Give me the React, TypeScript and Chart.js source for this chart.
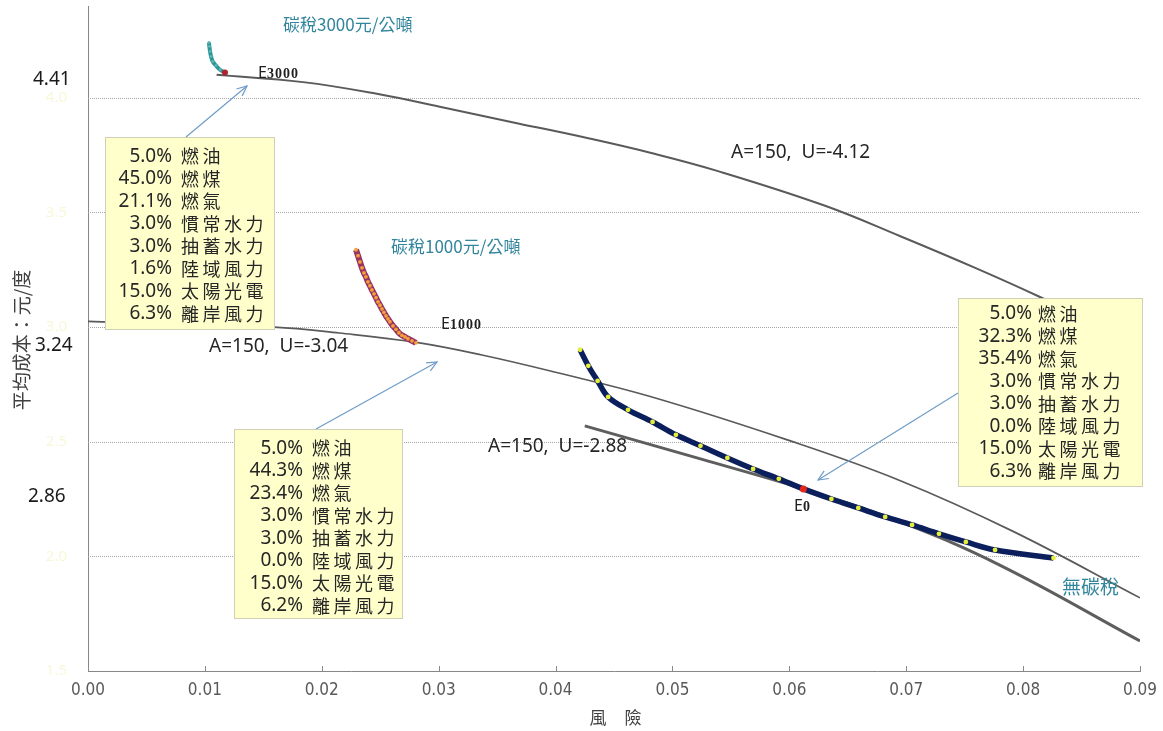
import { useEffect, useRef } from 'react';
import { Chart, registerables } from 'chart.js';

Chart.register(...registerables);

// Axis ticks
const xTickValues = [0, 0.01, 0.02, 0.03, 0.04, 0.05, 0.06, 0.07, 0.08, 0.09];
const xTickLabels = ['0.00', '0.01', '0.02', '0.03', '0.04', '0.05', '0.06', '0.07', '0.08', '0.09'];
const yTickValues = [1.5, 2.0, 2.5, 3.0, 3.5, 4.0];
const yTickLabels = ['1.5', '2.0', '2.5', '3.0', '3.5', '4.0'];

// Indifference curves, A=150
const curveU412X = [0.0110, 0.0184, 0.0246, 0.0306, 0.0368, 0.0429, 0.0481, 0.0539, 0.0630, 0.0695, 0.0759, 0.0814, 0.0900];
const curveU412Y = [4.100, 4.068, 4.018, 3.955, 3.888, 3.822, 3.760, 3.680, 3.530, 3.396, 3.258, 3.132, 2.922];
const curveU304X = [0, 0.0159, 0.0215, 0.0281, 0.0337, 0.0399, 0.0481, 0.0597, 0.0695, 0.0791, 0.0900];
const curveU304Y = [3.025, 3.000, 2.974, 2.933, 2.878, 2.804, 2.697, 2.510, 2.330, 2.110, 1.819];
const curveU288X = [0.0425, 0.0524, 0.0612, 0.0695, 0.0780, 0.0900];
const curveU288Y = [2.569, 2.425, 2.294, 2.150, 1.962, 1.631];

// Efficient frontier, no carbon tax (E0 highlighted)
const frontier0X = [0.0421, 0.0428, 0.0436, 0.0445, 0.0462, 0.0483, 0.0503, 0.0524, 0.0547, 0.0569, 0.0591, 0.0612, 0.0636, 0.0659, 0.0682, 0.0705, 0.0728, 0.0751, 0.0776, 0.0826];
const frontier0Y = [2.901, 2.831, 2.765, 2.695, 2.639, 2.586, 2.530, 2.482, 2.429, 2.381, 2.338, 2.294, 2.250, 2.211, 2.172, 2.137, 2.098, 2.063, 2.028, 1.993];
const e0Index = 11;

// Efficient frontier, carbon tax 1000 NTD/t (last point is E1000)
const frontier1000X = [0.02293, 0.02310, 0.02327, 0.02344, 0.02361, 0.02378, 0.02395, 0.02412, 0.02429, 0.02447, 0.02464, 0.02481, 0.02498, 0.02515, 0.02532, 0.02549, 0.02566, 0.02583, 0.02609, 0.02635, 0.02660, 0.02686, 0.02712, 0.02737, 0.02772, 0.02806];
const frontier1000Y = [3.337, 3.311, 3.284, 3.258, 3.236, 3.219, 3.197, 3.180, 3.162, 3.145, 3.128, 3.110, 3.095, 3.079, 3.064, 3.049, 3.036, 3.023, 3.005, 2.990, 2.975, 2.964, 2.957, 2.949, 2.940, 2.931];

// Efficient frontier, carbon tax 3000 NTD/t (last point is E3000)
const frontier3000X = [0.01035, 0.01038, 0.01044, 0.01053, 0.01067, 0.01095, 0.01129, 0.01172];
const frontier3000Y = [4.241, 4.224, 4.202, 4.180, 4.158, 4.140, 4.122, 4.110];

// Generation mix at each equilibrium
const mixSources = ['燃油', '燃煤', '燃氣', '慣常水力', '抽蓄水力', '陸域風力', '太陽光電', '離岸風力'];
const mixE3000 = [5.0, 45.0, 21.1, 3.0, 3.0, 1.6, 15.0, 6.3];
const mixE1000 = [5.0, 44.3, 23.4, 3.0, 3.0, 0.0, 15.0, 6.2];
const mixE0 = [5.0, 32.3, 35.4, 3.0, 3.0, 0.0, 15.0, 6.3];

// Utility values written beside the axis
const utilityMarks = ['4.41', '3.24', '2.86'];
const utilityCurveLabels = ['A=150,  U=-4.12', 'A=150,  U=-3.04', 'A=150,  U=-2.88'];

const W = 1163;
const H = 731;
const FONT_CJK = '"Noto Sans CJK TC", "Noto Sans CJK SC", sans-serif';
const FONT_LATIN = '"Noto Sans", "DejaVu Sans", sans-serif';
const TEAL = '#31859c';
const INK = '#262626';

const toPoints = (xs: number[], ys: number[]) => xs.map((x, i) => ({ x, y: ys[i] }));

function text(ctx: any, s: string, x: number, y: number, font: string, color: string, align = 'left') {
  ctx.font = font;
  ctx.fillStyle = color;
  ctx.textAlign = align;
  ctx.textBaseline = 'middle';
  ctx.fillText(s, x, y);
}

function arrow(ctx: any, x1: number, y1: number, x2: number, y2: number) {
  ctx.save();
  ctx.strokeStyle = '#6f9cc7';
  ctx.lineWidth = 1.2;
  ctx.setLineDash([]);
  ctx.beginPath();
  ctx.moveTo(x1, y1);
  ctx.lineTo(x2, y2);
  ctx.stroke();
  const a = Math.atan2(y2 - y1, x2 - x1);
  const L = 11;
  const s = 0.42;
  ctx.beginPath();
  ctx.moveTo(x2 - L * Math.cos(a - s), y2 - L * Math.sin(a - s));
  ctx.lineTo(x2, y2);
  ctx.lineTo(x2 - L * Math.cos(a + s), y2 - L * Math.sin(a + s));
  ctx.stroke();
  ctx.restore();
}

function mixBox(ctx: any, box: any, shares: number[]) {
  ctx.save();
  ctx.fillStyle = '#ffffcc';
  ctx.fillRect(box.x, box.y, box.w, box.h);
  ctx.strokeStyle = '#a0a0a0';
  ctx.lineWidth = 1;
  ctx.setLineDash([1, 1]);
  ctx.strokeRect(box.x + 0.5, box.y + 0.5, box.w - 1, box.h - 1);
  ctx.setLineDash([]);
  shares.forEach((v, i) => {
    const y = box.firstLine + i * 22.5;
    text(ctx, v.toFixed(1) + '%', box.pctRight, y, `19px ${FONT_LATIN}`, INK, 'right');
    Array.from(mixSources[i]).forEach((ch, j) =>
      text(ctx, ch, box.cjkLeft + j * 21.5, y, `18px ${FONT_CJK}`, INK)
    );
  });
  ctx.restore();
}

function eLabel(ctx: any, sub: string, x: number, y: number) {
  ctx.save();
  ctx.textBaseline = 'alphabetic';
  ctx.textAlign = 'left';
  ctx.fillStyle = '#1f1f1f';
  ctx.font = `16px ${FONT_LATIN}`;
  ctx.fillText('E', x, y);
  const w = ctx.measureText('E').width;
  ctx.font = 'bold 14px "Liberation Serif", serif';
  ctx.letterSpacing = '1px';
  ctx.fillText(sub, x + w, y);
  ctx.letterSpacing = '0px';
  ctx.restore();
}

const overlay = {
  id: 'overlay',
  beforeDatasetsDraw(chart: any) {
    const { ctx, chartArea, scales } = chart;
    ctx.save();
    ctx.strokeStyle = '#a6a6a6';
    ctx.lineWidth = 1;
    ctx.setLineDash([1, 1]);
    yTickValues.slice(1).forEach((v) => {
      const y = Math.round(scales.y.getPixelForValue(v)) + 0.5;
      ctx.beginPath();
      ctx.moveTo(chartArea.left, y);
      ctx.lineTo(chartArea.right, y);
      ctx.stroke();
    });
    ctx.setLineDash([]);
    ctx.strokeStyle = '#8a8a8a';
    xTickValues.forEach((v) => {
      const x = Math.round(scales.x.getPixelForValue(v)) + 0.5;
      ctx.beginPath();
      ctx.moveTo(x, chartArea.bottom);
      ctx.lineTo(x, chartArea.bottom - 5);
      ctx.stroke();
    });
    ctx.restore();
  },
  afterDraw(chart: any) {
    const { ctx } = chart;
    ctx.save();

    // axis titles
    ctx.save();
    ctx.translate(22, 340);
    ctx.rotate(-Math.PI / 2);
    text(ctx, '平均成本：元/度', 0, 0, `19px ${FONT_CJK}`, '#404040', 'center');
    ctx.restore();
    text(ctx, '風', 598, 718, `17px ${FONT_CJK}`, '#404040', 'center');
    text(ctx, '險', 633, 718, `17px ${FONT_CJK}`, '#404040', 'center');

    // utility values beside the axis
    text(ctx, utilityMarks[0], 33, 80, `19px ${FONT_LATIN}`, '#1a1a1a');
    text(ctx, utilityMarks[1], 35, 346, `19px ${FONT_LATIN}`, '#1a1a1a');
    text(ctx, utilityMarks[2], 28, 497, `19px ${FONT_LATIN}`, '#1a1a1a');

    // curve labels
    text(ctx, utilityCurveLabels[0], 731, 153, `19px ${FONT_LATIN}`, INK);
    text(ctx, utilityCurveLabels[1], 209, 347, `19px ${FONT_LATIN}`, INK);
    text(ctx, utilityCurveLabels[2], 488, 447, `19px ${FONT_LATIN}`, INK);

    text(ctx, '碳稅3000元/公噸', 283, 25, `17px ${FONT_CJK}`, TEAL);
    text(ctx, '碳稅1000元/公噸', 391, 247, `17px ${FONT_CJK}`, TEAL);
    text(ctx, '無碳稅', 1062, 587, `19px ${FONT_CJK}`, TEAL);

    eLabel(ctx, '3000', 258, 78);
    eLabel(ctx, '1000', 441, 329);
    eLabel(ctx, '0', 794, 511);

    // generation-mix boxes and their pointers
    mixBox(ctx, { x: 105, y: 137, w: 170, h: 193, pctRight: 172, cjkLeft: 181, firstLine: 156.5 }, mixE3000);
    mixBox(ctx, { x: 234, y: 429, w: 169, h: 190, pctRight: 303, cjkLeft: 312, firstLine: 448.5 }, mixE1000);
    mixBox(ctx, { x: 958, y: 298, w: 185, h: 189, pctRight: 1032, cjkLeft: 1038, firstLine: 314 }, mixE0);
    arrow(ctx, 186, 137, 247, 86);
    arrow(ctx, 316, 429, 437, 362);
    arrow(ctx, 958, 393, 818, 480);

    ctx.restore();
  },
};

export default function App() {
  const ref = useRef<HTMLCanvasElement>(null);

  useEffect(() => {
    const canvas = ref.current;
    if (!canvas) return;
    const chart = new Chart(canvas, {
      type: 'scatter',
      data: {
        datasets: [
          {
            label: 'U=-4.12',
            data: toPoints(curveU412X, curveU412Y),
            showLine: true,
            borderColor: '#5a5a5a',
            borderWidth: 2,
            pointRadius: 0,
            tension: 0.4,
            order: 5,
          },
          {
            label: 'U=-3.04',
            data: toPoints(curveU304X, curveU304Y),
            showLine: true,
            borderColor: '#5a5a5a',
            borderWidth: 1.7,
            pointRadius: 0,
            tension: 0.4,
            order: 5,
          },
          {
            label: 'U=-2.88',
            data: toPoints(curveU288X, curveU288Y),
            showLine: true,
            borderColor: '#5e5e5e',
            borderWidth: 3,
            pointRadius: 0,
            tension: 0.4,
            order: 5,
          },
          {
            label: '無碳稅',
            data: toPoints(frontier0X, frontier0Y),
            showLine: true,
            borderColor: '#0b1f5c',
            borderWidth: 5.5,
            pointRadius: (c: any) => (c.dataIndex === e0Index ? 3.5 : 2.4),
            pointBackgroundColor: (c: any) => (c.dataIndex === e0Index ? '#e4261d' : '#e6ee3c'),
            pointBorderWidth: 0,
            tension: 0.35,
            order: 2,
          },
          {
            label: '碳稅1000元/公噸',
            data: toPoints(frontier1000X, frontier1000Y),
            showLine: true,
            borderColor: '#963264',
            borderWidth: 6,
            pointRadius: 1.9,
            pointBackgroundColor: '#f4a03a',
            pointBorderWidth: 0,
            tension: 0.3,
            order: 2,
          },
          {
            label: '碳稅3000元/公噸',
            data: toPoints(frontier3000X, frontier3000Y),
            showLine: true,
            borderColor: '#2f9494',
            borderWidth: 4,
            pointRadius: (c: any) => (c.dataIndex === frontier3000X.length - 1 ? 3 : 1.4),
            pointBackgroundColor: (c: any) =>
              c.dataIndex === frontier3000X.length - 1 ? '#b0222d' : '#5cb8b8',
            pointBorderWidth: 0,
            tension: 0.3,
            order: 2,
          },
        ],
      },
      options: {
        responsive: false,
        devicePixelRatio: 1,
        animation: false,
        events: [],
        layout: { padding: { left: 0, right: 23, top: 6, bottom: 0 } },
        plugins: {
          legend: { display: false },
          tooltip: { enabled: false },
          title: { display: false },
        },
        scales: {
          x: {
            type: 'linear',
            min: 0,
            max: 0.09,
            grid: { display: false, drawTicks: false },
            border: { display: true, color: '#878787', width: 1 },
            afterBuildTicks: (scale: any) => {
              scale.ticks = xTickValues.map((value) => ({ value }));
            },
            afterFit: (scale: any) => {
              scale.height = 60;
              scale.paddingLeft = 0;
              scale.paddingRight = 0;
            },
            ticks: {
              padding: 9,
              color: '#595959',
              font: { family: '"Liberation Sans Narrow", "DejaVu Sans Condensed", sans-serif', size: 17 },
              maxRotation: 0,
              autoSkip: false,
              callback: (_v: any, i: number) => xTickLabels[i],
            },
          },
          y: {
            type: 'linear',
            min: 1.5,
            max: 4.4,
            grid: { display: false, drawTicks: false },
            border: { display: true, color: '#878787', width: 1 },
            afterBuildTicks: (scale: any) => {
              scale.ticks = yTickValues.map((value) => ({ value }));
            },
            afterFit: (scale: any) => {
              scale.width = 88;
              scale.paddingTop = 0;
              scale.paddingBottom = 0;
            },
            ticks: {
              padding: 21,
              color: '#f7f7d9',
              font: { family: FONT_LATIN, size: 15 },
              callback: (_v: any, i: number) => yTickLabels[i],
            },
          },
        },
      },
      plugins: [overlay],
    } as any);
    return () => chart.destroy();
  }, []);

  return (
    <div style={{ position: 'fixed', left: 0, top: 0, width: W, height: H, background: '#ffffff' }}>
      <canvas ref={ref} width={W} height={H} style={{ display: 'block', width: W, height: H }} />
    </div>
  );
}
